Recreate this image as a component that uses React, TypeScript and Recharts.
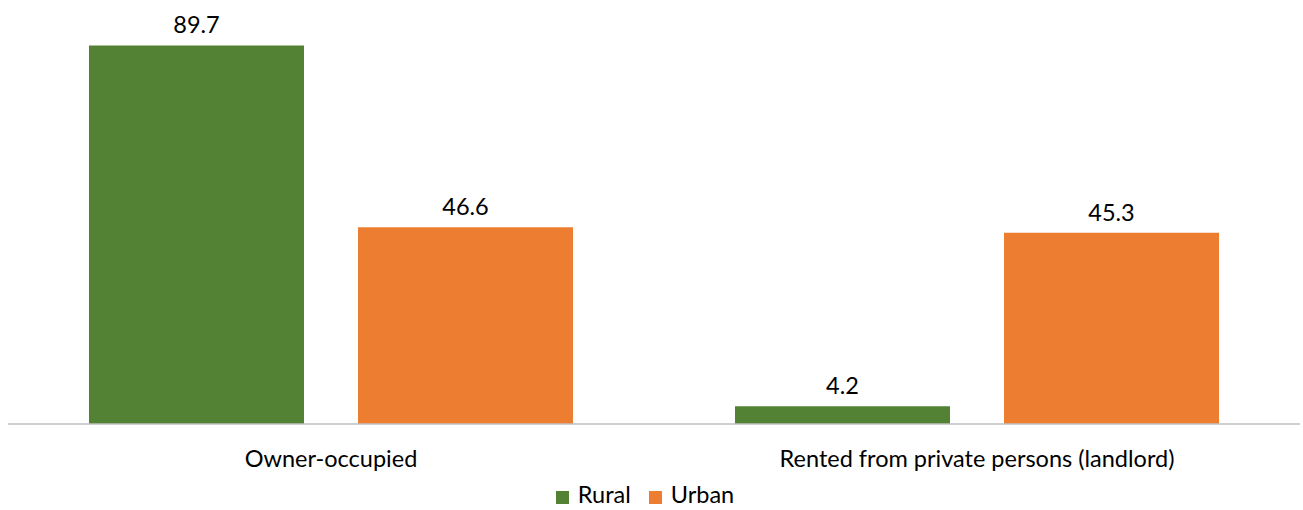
import { BarChart, Bar, XAxis, YAxis, Legend, LabelList } from 'recharts';

const categories = ['Owner-occupied', 'Rented from private persons (landlord)'];
const rural = [89.7, 4.2];
const urban = [46.6, 45.3];

const data = categories.map((name, i) => ({ name, Rural: rural[i], Urban: urban[i] }));

const font = 'Lato, "Open Sans", sans-serif';
const fs = 23.5;

export default function App() {
  return (
    <div style={{ position: 'absolute', left: 0, top: 0, background: '#fff', fontFamily: font }}>
      <BarChart
        width={1303}
        height={510}
        data={data}
        margin={{ top: 2, right: 3, left: 8, bottom: 0 }}
        barCategoryGap={81}
        barGap={54}
      >
        <XAxis
          dataKey="name"
          axisLine={{ stroke: '#bfbfbf', strokeWidth: 1.5 }}
          tickLine={false}
          tickSize={0}
          tickMargin={26}
          height={56}
          tick={{ fill: '#000', fontSize: fs, fontFamily: font }}
        />
        <YAxis hide domain={[0, 100]} />
        <Legend
          verticalAlign="bottom"
          height={30}
          iconType="square"
          iconSize={13}
          wrapperStyle={{ fontSize: fs, fontFamily: font, color: '#000', bottom: -1, lineHeight: '26px' }}
          formatter={(value) => (
            <span style={{ color: '#000', marginLeft: 5, marginRight: 8 }}>{value}</span>
          )}
        />
        <Bar dataKey="Rural" fill="#548235" isAnimationActive={false}>
          <LabelList dataKey="Rural" position="top" offset={12} fill="#000" fontSize={fs} fontFamily={font} />
        </Bar>
        <Bar dataKey="Urban" fill="#ed7d31" isAnimationActive={false}>
          <LabelList dataKey="Urban" position="top" offset={12} fill="#000" fontSize={fs} fontFamily={font} />
        </Bar>
      </BarChart>
    </div>
  );
}
